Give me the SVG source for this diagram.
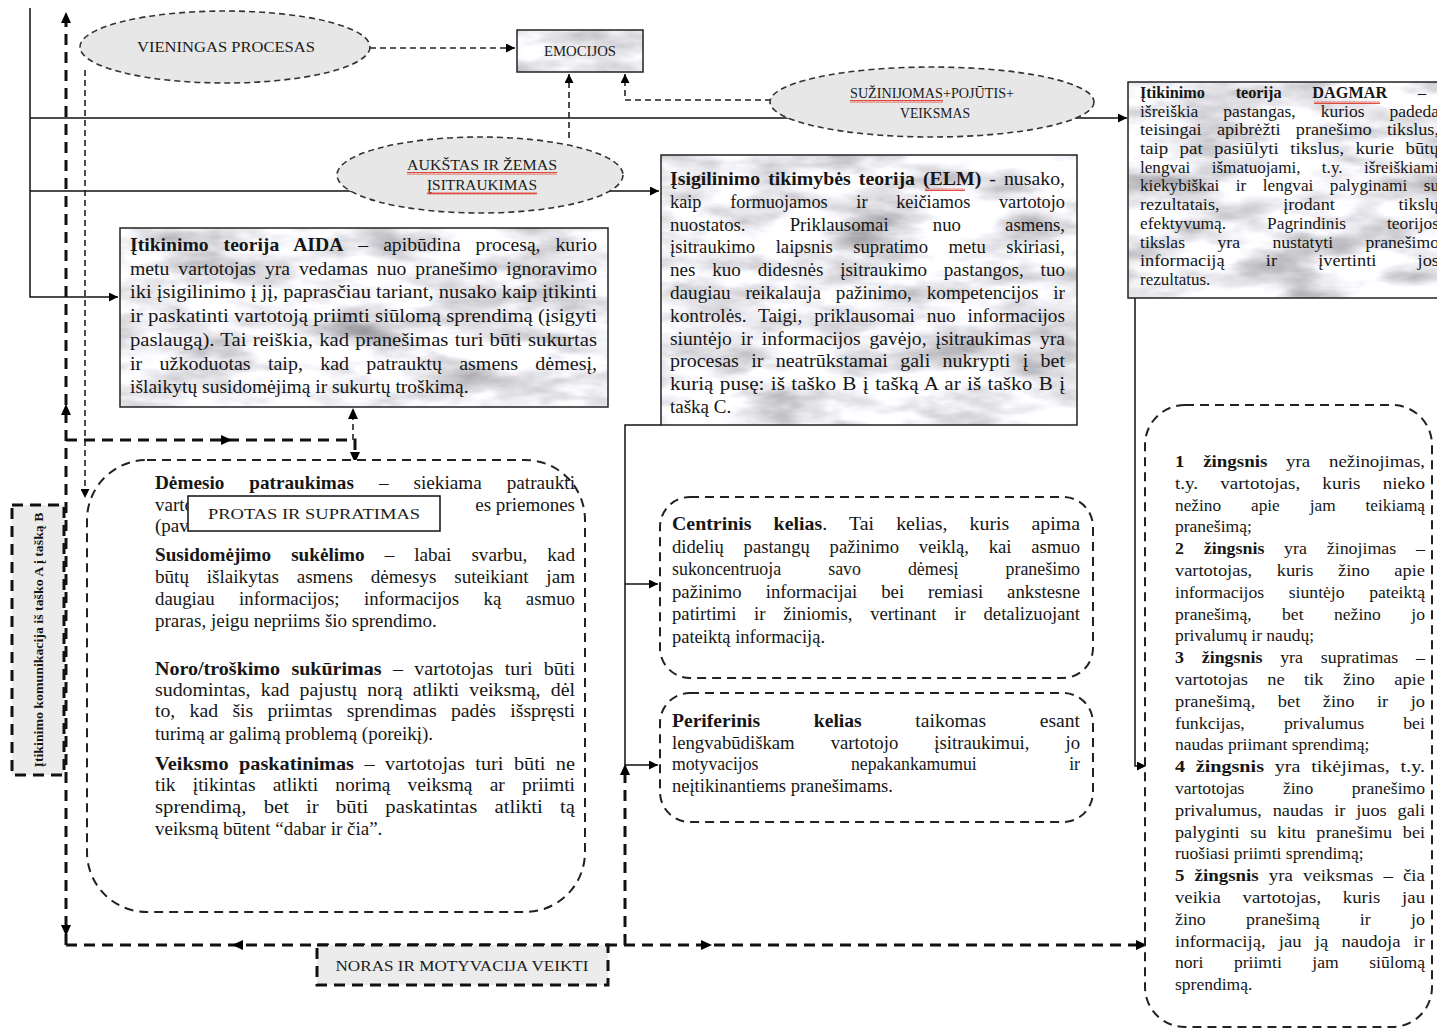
<svg xmlns="http://www.w3.org/2000/svg" width="1437" height="1032" viewBox="0 0 1437 1032">
<style>
.t{font-family:"Liberation Serif","Times New Roman",serif;fill:#161616}
.b{font-weight:bold}
.fa{font-size:19.5px}.fe{font-size:19px}.fd{font-size:17px}.fs{font-size:17.5px}.fc{font-size:18.5px}.fl{font-size:19px}
.lab{font-family:"Liberation Serif","Times New Roman",serif;font-size:15px;fill:#1a1a1a}
.sol{stroke:#111;stroke-width:1.5;fill:none}
.dthin{stroke:#222;stroke-width:1.6;stroke-dasharray:6 4;fill:none}
.dthick{stroke:#111;stroke-width:3;stroke-dasharray:11 7;fill:none}
.ell{fill:#e7e7e7;stroke:#333;stroke-width:1.6;stroke-dasharray:6 4}
.rbox{fill:#fff;stroke:#222;stroke-width:2;stroke-dasharray:9 6}
.frame{fill:none;stroke:#222;stroke-width:1.5}
</style>
<defs>
<filter id="marble" x="0" y="0" width="1" height="1" color-interpolation-filters="sRGB">
<feTurbulence type="fractalNoise" baseFrequency="0.012 0.035" numOctaves="4" seed="7"/>
<feColorMatrix type="matrix" values="0.5 0.5 0 0 0.43  0.5 0.5 0 0 0.43  0.5 0.5 0 0 0.45  0 0 0 0 1"/>
</filter>
<pattern id="wv" width="4" height="3" patternUnits="userSpaceOnUse"><path d="M0,2.5 L1,0.5 L2,2.5 L3,0.5 L4,2.5" stroke="#d21" stroke-width="0.8" fill="none"/></pattern>
<marker id="ah" viewBox="0 0 10 10" refX="10" refY="5" markerWidth="10" markerHeight="9" markerUnits="userSpaceOnUse" orient="auto"><path d="M0,0 L10,5 L0,10 z" fill="#000"/></marker>
<path id="tri" d="M0,0 L-11,-5 L-11,5 z" fill="#000"/>
</defs>
<rect width="1437" height="1032" fill="#fff"/>

<!-- connectors -->
<g id="connectors">
<path class="sol" d="M30,8 V297 H118" marker-end="url(#ah)"/>
<path class="sol" d="M30,118 H1127" marker-end="url(#ah)"/>
<path class="sol" d="M30,191 H659" marker-end="url(#ah)"/>
<path class="sol" d="M661,425 H625 V765 H658" marker-end="url(#ah)"/>
<path class="sol" d="M625,584 H658" marker-end="url(#ah)"/>
<path class="sol" d="M1135,298 V766 H1146" marker-end="url(#ah)"/>
<path class="dthin" d="M370,48 H515" marker-end="url(#ah)"/>
<path class="dthin" d="M569,138 V74" marker-end="url(#ah)"/>
<path class="dthin" d="M771,100 H625 V74" marker-end="url(#ah)"/>
<path class="dthin" d="M85,70 V498" marker-end="url(#ah)"/>
<path class="dthick" d="M66,945 V16"/>
<path class="dthick" d="M66,945 H1140"/>
<path class="dthick" d="M625,945 V772"/>
<path class="dthick" d="M66,440 H355 V456"/>
<path class="dthin" d="M353,440 V412"/>
<use href="#tri" transform="translate(66,12) rotate(-90)"/>
<use href="#tri" transform="translate(66,404) rotate(-90)"/>
<use href="#tri" transform="translate(66,936) rotate(90)"/>
<use href="#tri" transform="translate(232,945) rotate(180)"/>
<use href="#tri" transform="translate(712,945)"/>
<use href="#tri" transform="translate(1147,945)"/>
<use href="#tri" transform="translate(625,764) rotate(-90)"/>
<use href="#tri" transform="translate(232,440)"/>
<use href="#tri" transform="translate(355,463) rotate(90)"/>
<use href="#tri" transform="translate(353,408) rotate(-90)"/>
<path class="sol" d="M152,513 H118 V788 H152 M118,602 H152 M118,692 H152"/>
</g>

<!-- ellipses -->
<g id="n-vieningas">
<ellipse class="ell" cx="225" cy="47" rx="145" ry="36"/>
<text class="lab" x="226" y="52" text-anchor="middle" textLength="178" lengthAdjust="spacingAndGlyphs">VIENINGAS PROCESAS</text>
</g>
<g id="n-emocijos">
<rect x="517" y="30" width="126" height="42" fill="#ddd" filter="url(#marble)"/>
<rect class="frame" x="517" y="30" width="126" height="42"/>
<text class="lab" x="580" y="56" text-anchor="middle" textLength="72" lengthAdjust="spacingAndGlyphs">EMOCIJOS</text>
</g>
<g id="n-aukstas">
<ellipse class="ell" cx="480" cy="175" rx="143" ry="38"/>
<text class="lab" x="482" y="170" text-anchor="middle" textLength="150" lengthAdjust="spacingAndGlyphs">AUKŠTAS IR ŽEMAS</text>
<text class="lab" x="482" y="190" text-anchor="middle" textLength="110" lengthAdjust="spacingAndGlyphs">ĮSITRAUKIMAS</text>
<rect x="407" y="172" width="150" height="3" fill="url(#wv)"/>
<rect x="427" y="192" width="110" height="3" fill="url(#wv)"/>
</g>
<g id="n-suzinojomas">
<ellipse class="ell" cx="932" cy="102" rx="162" ry="35"/>
<text class="lab" x="932" y="98" text-anchor="middle" textLength="164" lengthAdjust="spacingAndGlyphs">SUŽINIJOMAS+POJŪTIS+</text>
<text class="lab" x="935" y="118" text-anchor="middle" textLength="70" lengthAdjust="spacingAndGlyphs">VEIKSMAS</text>
<rect x="850" y="100" width="93" height="3" fill="url(#wv)"/>
</g>

<!-- AIDA -->
<g id="n-aida">
<rect x="120" y="228" width="488" height="179" fill="#ddd" filter="url(#marble)"/>
<rect class="frame" x="120" y="228" width="488" height="179"/>
<text class="t fa" x="130" y="251" textLength="467" lengthAdjust="spacingAndGlyphs" word-spacing="10"><tspan class="b">Įtikinimo teorija AIDA</tspan> – apibūdina procesą, kurio</text>
<text class="t fa" x="130" y="275" textLength="467" lengthAdjust="spacingAndGlyphs" word-spacing="4">metu vartotojas yra vedamas nuo pranešimo ignoravimo</text>
<text class="t fa" x="130" y="298" textLength="467" lengthAdjust="spacingAndGlyphs">iki įsigilinimo į jį, paprasčiau tariant, nusako kaip įtikinti</text>
<text class="t fa" x="130" y="322" textLength="467" lengthAdjust="spacingAndGlyphs">ir paskatinti vartotoją priimti siūlomą sprendimą (įsigyti</text>
<text class="t fa" x="130" y="346" textLength="467" lengthAdjust="spacingAndGlyphs" word-spacing="1">paslaugą). Tai reiškia, kad pranešimas turi būti sukurtas</text>
<text class="t fa" x="130" y="370" textLength="467" lengthAdjust="spacingAndGlyphs" word-spacing="12">ir užkoduotas taip, kad patrauktų asmens dėmesį,</text>
<text class="t fa" x="130" y="393">išlaikytų susidomėjimą ir sukurtų troškimą.</text>
</g>

<!-- ELM -->
<g id="n-elm">
<rect x="661" y="155" width="416" height="270" fill="#ddd" filter="url(#marble)"/>
<rect class="frame" x="661" y="155" width="416" height="270"/>
<text class="t fe" x="670" y="185" textLength="395" lengthAdjust="spacingAndGlyphs" word-spacing="3"><tspan class="b">Įsigilinimo tikimybės teorija (ELM)</tspan> - nusako,</text>
<rect x="925" y="188" width="40" height="3" fill="url(#wv)"/>
<text class="t fe" x="670" y="208" textLength="395" lengthAdjust="spacingAndGlyphs" word-spacing="25">kaip formuojamos ir keičiamos vartotojo</text>
<text class="t fe" x="670" y="231" textLength="395" lengthAdjust="spacingAndGlyphs" word-spacing="40">nuostatos. Priklausomai nuo asmens,</text>
<text class="t fe" x="670" y="253" textLength="395" lengthAdjust="spacingAndGlyphs" word-spacing="16">įsitraukimo laipsnis supratimo metu skiriasi,</text>
<text class="t fe" x="670" y="276" textLength="395" lengthAdjust="spacingAndGlyphs" word-spacing="12">nes kuo didesnės įsitraukimo pastangos, tuo</text>
<text class="t fe" x="670" y="299" textLength="395" lengthAdjust="spacingAndGlyphs" word-spacing="10">daugiau reikalauja pažinimo, kompetencijos ir</text>
<text class="t fe" x="670" y="322" textLength="395" lengthAdjust="spacingAndGlyphs" word-spacing="7">kontrolės. Taigi, priklausomai nuo informacijos</text>
<text class="t fe" x="670" y="345" textLength="395" lengthAdjust="spacingAndGlyphs" word-spacing="4">siuntėjo ir informacijos gavėjo, įsitraukimas yra</text>
<text class="t fe" x="670" y="367" textLength="395" lengthAdjust="spacingAndGlyphs" word-spacing="7">procesas ir neatrūkstamai gali nukrypti į bet</text>
<text class="t fe" x="670" y="390" textLength="395" lengthAdjust="spacingAndGlyphs" word-spacing="1">kurią pusę: iš taško B į tašką A ar iš taško B į</text>
<text class="t fe" x="670" y="413">tašką C.</text>
</g>

<!-- DAGMAR -->
<g id="n-dagmar">
<rect x="1128" y="82" width="320" height="216" fill="#ddd" filter="url(#marble)"/>
<rect class="frame" x="1128" y="82" width="320" height="216"/>
<text class="t fd" x="1140" y="98" textLength="286" lengthAdjust="spacingAndGlyphs" word-spacing="28"><tspan class="b">Įtikinimo teorija DAGMAR</tspan> –</text>
<rect x="1314" y="101" width="66" height="3" fill="url(#wv)"/>
<text class="t fd" x="1140" y="117" textLength="299" lengthAdjust="spacingAndGlyphs" word-spacing="20">išreiškia pastangas, kurios padeda</text>
<text class="t fd" x="1140" y="135" textLength="299" lengthAdjust="spacingAndGlyphs" word-spacing="10">teisingai apibrėžti pranešimo tikslus,</text>
<text class="t fd" x="1140" y="154" textLength="299" lengthAdjust="spacingAndGlyphs" word-spacing="6">taip pat pasiūlyti tikslus, kurie būtų</text>
<text class="t fd" x="1140" y="173" textLength="299" lengthAdjust="spacingAndGlyphs" word-spacing="17">lengvai išmatuojami, t.y. išreiškiami</text>
<text class="t fd" x="1140" y="191" textLength="299" lengthAdjust="spacingAndGlyphs" word-spacing="12">kiekybiškai ir lengvai palyginami su</text>
<text class="t fd" x="1140" y="210" textLength="299" lengthAdjust="spacingAndGlyphs" word-spacing="55">rezultatais, įrodant tikslų</text>
<text class="t fd" x="1140" y="229" textLength="299" lengthAdjust="spacingAndGlyphs" word-spacing="36">efektyvumą. Pagrindinis teorijos</text>
<text class="t fd" x="1140" y="248" textLength="299" lengthAdjust="spacingAndGlyphs" word-spacing="27">tikslas yra nustatyti pranešimo</text>
<text class="t fd" x="1140" y="266" textLength="299" lengthAdjust="spacingAndGlyphs" word-spacing="34">informaciją ir įvertinti jos</text>
<text class="t fd" x="1140" y="285">rezultatus.</text>
</g>

<!-- left rounded box -->
<g id="n-aida-steps">
<rect class="rbox" x="87" y="460" width="498" height="452" rx="60"/>
<text class="t fl" x="155" y="489" textLength="420" lengthAdjust="spacingAndGlyphs" word-spacing="20"><tspan class="b">Dėmesio patraukimas</tspan> –  siekiama patraukti</text>
<text class="t fl" x="155" y="511">varto</text>
<text class="t fl" x="575" y="511" text-anchor="end">es priemones</text>
<text class="t fl" x="155" y="532">(pav</text>
<text class="t fl" x="155" y="561" textLength="420" lengthAdjust="spacingAndGlyphs" word-spacing="15"><tspan class="b">Susidomėjimo sukėlimo</tspan> – labai svarbu, kad</text>
<text class="t fl" x="155" y="583" textLength="420" lengthAdjust="spacingAndGlyphs" word-spacing="13">būtų išlaikytas asmens dėmesys suteikiant jam</text>
<text class="t fl" x="155" y="605" textLength="420" lengthAdjust="spacingAndGlyphs" word-spacing="20">daugiau informacijos; informacijos ką asmuo</text>
<text class="t fl" x="155" y="627">praras, jeigu nepriims šio sprendimo.</text>
<text class="t fl" x="155" y="675" textLength="420" lengthAdjust="spacingAndGlyphs" word-spacing="6"><tspan class="b">Noro/troškimo sukūrimas</tspan> – vartotojas turi būti</text>
<text class="t fl" x="155" y="696" textLength="420" lengthAdjust="spacingAndGlyphs" word-spacing="5">sudomintas, kad pajustų norą atlikti veiksmą, dėl</text>
<text class="t fl" x="155" y="717" textLength="420" lengthAdjust="spacingAndGlyphs" word-spacing="9">to, kad šis priimtas sprendimas padės išspręsti</text>
<text class="t fl" x="155" y="740">turimą ar galimą problemą (poreikį).</text>
<text class="t fl" x="155" y="770" textLength="420" lengthAdjust="spacingAndGlyphs" word-spacing="5"><tspan class="b">Veiksmo paskatinimas</tspan> – vartotojas turi būti ne</text>
<text class="t fl" x="155" y="791" textLength="420" lengthAdjust="spacingAndGlyphs" word-spacing="12">tik įtikintas atlikti norimą veiksmą ar priimti</text>
<text class="t fl" x="155" y="813" textLength="420" lengthAdjust="spacingAndGlyphs" word-spacing="11">sprendimą, bet ir būti paskatintas atlikti tą</text>
<text class="t fl" x="155" y="835">veiksmą būtent  “dabar ir čia”.</text>
</g>
<g id="n-protas">
<rect x="188" y="496" width="252" height="35" fill="#fff" stroke="#111" stroke-width="1.5"/>
<text class="lab" x="314" y="519" text-anchor="middle" textLength="212" lengthAdjust="spacingAndGlyphs">PROTAS IR SUPRATIMAS</text>
</g>

<!-- centre boxes -->
<g id="n-centrinis">
<rect class="rbox" x="660" y="497" width="433" height="181" rx="30"/>
<text class="t fc" x="672" y="530" textLength="408" lengthAdjust="spacingAndGlyphs" word-spacing="16"><tspan class="b">Centrinis kelias</tspan>. Tai kelias, kuris apima</text>
<text class="t fc" x="672" y="553" textLength="408" lengthAdjust="spacingAndGlyphs" word-spacing="15">didelių pastangų pažinimo veiklą, kai asmuo</text>
<text class="t fc" x="672" y="575" textLength="408" lengthAdjust="spacingAndGlyphs" word-spacing="44">sukoncentruoja savo dėmesį pranešimo</text>
<text class="t fc" x="672" y="598" textLength="408" lengthAdjust="spacingAndGlyphs" word-spacing="19">pažinimo informacijai bei remiasi ankstesne</text>
<text class="t fc" x="672" y="620" textLength="408" lengthAdjust="spacingAndGlyphs" word-spacing="13">patirtimi ir žiniomis, vertinant ir detalizuojant</text>
<text class="t fc" x="672" y="643">pateiktą informaciją.</text>
</g>
<g id="n-periferinis">
<rect class="rbox" x="660" y="693" width="433" height="129" rx="30"/>
<text class="t fc" x="672" y="727" textLength="408" lengthAdjust="spacingAndGlyphs" word-spacing="46"><tspan class="b">Periferinis kelias</tspan> taikomas esant</text>
<text class="t fc" x="672" y="749" textLength="408" lengthAdjust="spacingAndGlyphs" word-spacing="31">lengvabūdiškam vartotojo įsitraukimui, jo</text>
<text class="t fc" x="672" y="770" textLength="408" lengthAdjust="spacingAndGlyphs" word-spacing="92">motyvacijos nepakankamumui ir</text>
<text class="t fc" x="672" y="792">neįtikinantiems pranešimams.</text>
</g>

<!-- steps box -->
<g id="n-steps">
<rect class="rbox" x="1145" y="405" width="287" height="622" rx="40"/>
<text class="t fs" x="1175" y="467" textLength="250" lengthAdjust="spacingAndGlyphs" word-spacing="13"><tspan class="b">1 žingsnis</tspan> yra nežinojimas,</text>
<text class="t fs" x="1175" y="489" textLength="250" lengthAdjust="spacingAndGlyphs" word-spacing="16">t.y. vartotojas, kuris nieko</text>
<text class="t fs" x="1175" y="511" textLength="250" lengthAdjust="spacingAndGlyphs" word-spacing="26">nežino apie jam teikiamą</text>
<text class="t fs" x="1175" y="532">pranešimą;</text>
<text class="t fs" x="1175" y="554" textLength="250" lengthAdjust="spacingAndGlyphs" word-spacing="15"><tspan class="b">2 žingsnis</tspan> yra žinojimas –</text>
<text class="t fs" x="1175" y="576" textLength="250" lengthAdjust="spacingAndGlyphs" word-spacing="19">vartotojas, kuris žino apie</text>
<text class="t fs" x="1175" y="598" textLength="250" lengthAdjust="spacingAndGlyphs" word-spacing="20">informacijos siuntėjo pateiktą</text>
<text class="t fs" x="1175" y="620" textLength="250" lengthAdjust="spacingAndGlyphs" word-spacing="26">pranešimą, bet nežino jo</text>
<text class="t fs" x="1175" y="641">privalumų ir naudų;</text>
<text class="t fs" x="1175" y="663" textLength="250" lengthAdjust="spacingAndGlyphs" word-spacing="13"><tspan class="b">3 žingsnis</tspan> yra supratimas –</text>
<text class="t fs" x="1175" y="685" textLength="250" lengthAdjust="spacingAndGlyphs" word-spacing="14">vartotojas ne tik žino apie</text>
<text class="t fs" x="1175" y="707" textLength="250" lengthAdjust="spacingAndGlyphs" word-spacing="17">pranešimą, bet žino ir jo</text>
<text class="t fs" x="1175" y="729" textLength="250" lengthAdjust="spacingAndGlyphs" word-spacing="34">funkcijas, privalumus bei</text>
<text class="t fs" x="1175" y="750">naudas priimant sprendimą;</text>
<text class="t fs" x="1175" y="772" textLength="250" lengthAdjust="spacingAndGlyphs" word-spacing="5"><tspan class="b">4 žingsnis</tspan> yra tikėjimas, t.y.</text>
<text class="t fs" x="1175" y="794" textLength="250" lengthAdjust="spacingAndGlyphs" word-spacing="34">vartotojas žino pranešimo</text>
<text class="t fs" x="1175" y="816" textLength="250" lengthAdjust="spacingAndGlyphs" word-spacing="6">privalumus, naudas ir juos gali</text>
<text class="t fs" x="1175" y="838" textLength="250" lengthAdjust="spacingAndGlyphs" word-spacing="6">palyginti su kitu pranešimu bei</text>
<text class="t fs" x="1175" y="859">ruošiasi priimti sprendimą;</text>
<text class="t fs" x="1175" y="881" textLength="250" lengthAdjust="spacingAndGlyphs" word-spacing="5"><tspan class="b">5 žingsnis</tspan> yra veiksmas – čia</text>
<text class="t fs" x="1175" y="903" textLength="250" lengthAdjust="spacingAndGlyphs" word-spacing="16">veikia vartotojas, kuris jau</text>
<text class="t fs" x="1175" y="925" textLength="250" lengthAdjust="spacingAndGlyphs" word-spacing="35">žino pranešimą ir jo</text>
<text class="t fs" x="1175" y="947" textLength="250" lengthAdjust="spacingAndGlyphs" word-spacing="8">informaciją, jau ją naudoja ir</text>
<text class="t fs" x="1175" y="968" textLength="250" lengthAdjust="spacingAndGlyphs" word-spacing="26">nori priimti jam siūlomą</text>
<text class="t fs" x="1175" y="990">sprendimą.</text>
</g>

<!-- label boxes -->
<g id="n-komunikacija">
<rect x="12" y="505" width="52" height="270" fill="#ececec" stroke="#111" stroke-width="3" stroke-dasharray="11 7"/>
<text class="t b" font-size="13.5" transform="translate(43,640) rotate(-90)" text-anchor="middle" textLength="255" lengthAdjust="spacingAndGlyphs">Įtikinimo komunikacija iš taško A į tašką B</text>
</g>
<g id="n-noras">
<rect x="317" y="945" width="291" height="40" fill="#ececec" stroke="#111" stroke-width="3" stroke-dasharray="11 7"/>
<text class="lab" x="462" y="971" text-anchor="middle" textLength="253" lengthAdjust="spacingAndGlyphs">NORAS IR MOTYVACIJA VEIKTI</text>
</g>
</svg>
